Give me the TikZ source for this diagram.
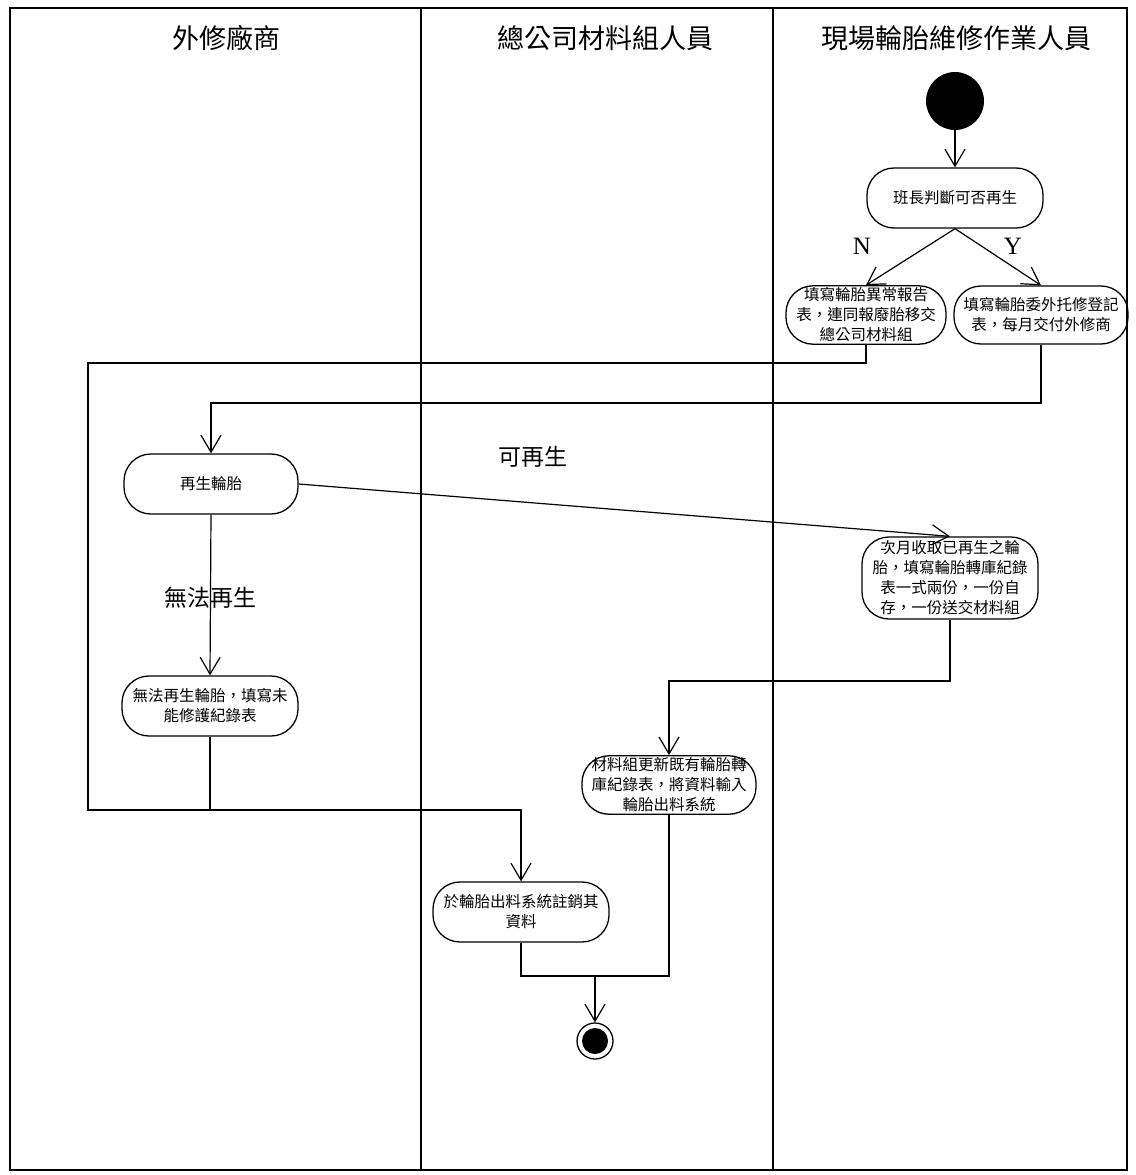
\documentclass[tikz,border=0pt]{standalone}
\usepackage{fontspec}
\setmainfont{Noto Sans CJK TC}
\newfontfamily\latinserif{Liberation Serif}
\usetikzlibrary{arrows.meta}
\tikzset{
  lane/.style={draw, line width=2pt},
  lanetitle/.style={font=\fontsize{27}{30}\selectfont},
  activity/.style={draw, line width=1.3pt, rounded corners=27pt, align=center,
    inner sep=2pt, font=\fontsize{15.5}{20}\selectfont},
  flow/.style={line width=1.2pt, -{Straight Barb[length=17pt,width=20pt,line width=1.2pt]}},
  plain/.style={line width=1.2pt},
  guard/.style={font=\fontsize{23}{26}\selectfont},
  branch/.style={font=\latinserif\fontsize{25}{28}\selectfont}
}
\begin{document}
\begin{tikzpicture}[x=1pt,y=-1pt]
\useasboundingbox (0,0) rectangle (1135,1175);
\draw[lane] (10,8) rectangle (421,1170);
\draw[lane] (421,8) rectangle (773,1170);
\draw[lane] (773,8) rectangle (1127,1170);
\node[lanetitle] (vendor) at (226,38) {外修廠商};
\node[lanetitle] (stores) at (605,38) {總公司材料組人員};
\node[lanetitle] (site) at (956,38) {現場輪胎維修作業人員};

\node[circle, fill=black, minimum size=58pt, inner sep=0pt] (start) at (955,101) {};
\node[activity, minimum width=176pt, minimum height=60pt] (decide) at (955,198) {班長判斷可否再生};
\node[activity, minimum width=160pt, minimum height=58pt] (nrep) at (866,315)
  {填寫輪胎異常報告\\表，連同報廢胎移交\\總公司材料組};
\node[activity, minimum width=174pt, minimum height=58pt] (yrep) at (1041,315)
  {填寫輪胎委外托修登記\\表，每月交付外修商};
\node[activity, minimum width=174pt, minimum height=60pt] (retread) at (211,484) {再生輪胎};
\node[activity, minimum width=176pt, minimum height=82pt] (collect) at (950,578)
  {次月收取已再生之輪\\胎，填寫輪胎轉庫紀錄\\表一式兩份，一份自\\存，一份送交材料組};
\node[activity, minimum width=176pt, minimum height=60pt] (fail) at (210,706)
  {無法再生輪胎，填寫未\\能修護紀錄表};
\node[activity, minimum width=174pt, minimum height=58pt] (update) at (669,785)
  {材料組更新既有輪胎轉\\庫紀錄表，將資料輸入\\輪胎出料系統};
\node[activity, minimum width=176pt, minimum height=60pt] (writeoff) at (521,912)
  {於輪胎出料系統註銷其\\資料};
\node[circle, draw, line width=1.3pt, minimum size=36pt, inner sep=0pt] (end) at (595,1041) {};
\fill (end.center) circle (13pt);

\coordinate (nbend) at (88,363);
\coordinate (fbend) at (88,810);
\coordinate (ybend) at (211,403);
\coordinate (cbend) at (669,681);
\coordinate (merge) at (595,976);

\draw[flow] (start) -- (decide);
\draw[flow] (decide.south) -- (nrep.north);
\draw[flow] (decide.south) -- (yrep.north);
\draw[flow] (nrep.south) |- (nbend) -- (fbend) -| (writeoff.north);
\draw[flow] (yrep.south) |- (ybend) -- (retread.north);
\draw[flow] (retread.east) -- (collect.north);
\draw[flow] (retread.south) -- (fail.north);
\draw[plain] (fail.south) -- (fail.south |- fbend);
\draw[flow] (collect.south) |- (cbend) -- (update.north);
\draw[plain] (writeoff.south) |- (merge) -| (update.south);
\draw[flow] (merge) -- (end.north);

\node[branch] (labN) at (862,246) {N};
\node[branch] (labY) at (1013,246) {Y};
\node[guard] (labok) at (533,457) {可再生};
\node[guard] (labfail) at (210,598) {無法再生};
\end{tikzpicture}
\end{document}
